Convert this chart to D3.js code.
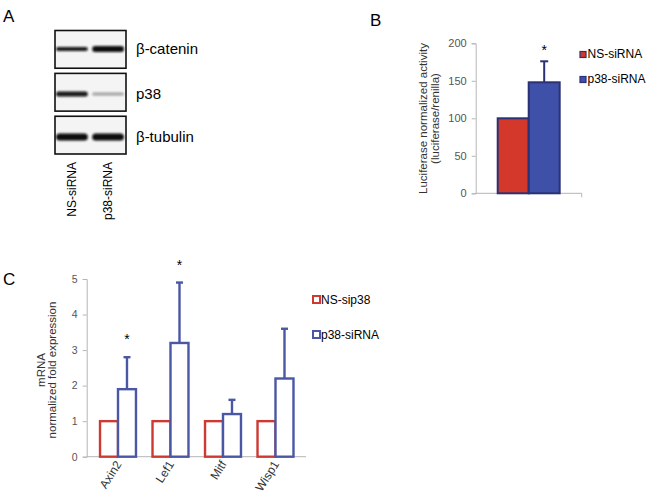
<!DOCTYPE html>
<html><head><meta charset="utf-8">
<script src="https://cdn.jsdelivr.net/npm/d3@7"></script>
<style>body{margin:0;background:#fff}svg{display:block;font-family:"Liberation Sans",Arial,sans-serif}</style>
</head><body>
<svg id="c" width="649" height="496"></svg>
<script>
// ---- Panel A: western blot ----
const blotProteins = ["β-catenin", "p38", "β-tubulin"];
const blotLanes = ["NS-siRNA", "p38-siRNA"];
const bandIntensity = [[0.95, 1.0], [0.95, 0.35], [1.0, 1.0]];
const bandThickness = [[4, 6], [5, 3], [7, 7]];

// ---- Panel B: luciferase ----
const lucSeries = ["NS-siRNA", "p38-siRNA"];
const lucMeans = [100, 148];
const lucErr = [0, 28];
const lucSignif = [false, true];
const lucTicks = [0, 50, 100, 150, 200];

// ---- Panel C: qPCR ----
const genes = ["Axin2", "Lef1", "Mitf", "Wisp1"];
const qSeries = ["NS-sip38", "p38-siRNA"];
const nsValues = [1, 1, 1, 1];
const p38Values = [1.9, 3.2, 1.2, 2.2];
const p38Err = [0.9, 1.7, 0.4, 1.4];
const qSignif = [true, true, false, false];
const qTicks = [0, 1, 2, 3, 4, 5];

const svg = d3.select("#c");
const axisGray = "#b5b5b5", tickText = "#555";

// panel letters
svg.append("text").attr("x", 3).attr("y", 22).attr("font-size", 17).text("A");
svg.append("text").attr("x", 370).attr("y", 26).attr("font-size", 17).text("B");
svg.append("text").attr("x", 3).attr("y", 285).attr("font-size", 17).text("C");

// ===== Panel A =====
const defs = svg.append("defs");
defs.append("filter").attr("id", "blur").attr("x", "-20%").attr("y", "-100%").attr("width", "140%").attr("height", "300%")
  .append("feGaussianBlur").attr("stdDeviation", 1.1);

const laneX = d3.scaleBand().domain(blotLanes).range([56, 124]).paddingInner(0.12);
const rowY = d3.scaleBand().domain(blotProteins).range([30.5, 154]).paddingInner(0.12);
const bandCenters = [49, 94, 137];

const rowsG = svg.append("g");
blotProteins.forEach((p, i) => {
  const y0 = rowY(p), h = rowY.bandwidth();
  rowsG.append("rect").attr("x", 55).attr("y", y0).attr("width", 71).attr("height", h)
    .attr("fill", "#f4f4f4").attr("stroke", "#111").attr("stroke-width", 1.6);
  blotLanes.forEach((l, j) => {
    const th = bandThickness[i][j];
    rowsG.append("rect").attr("x", laneX(l)).attr("y", bandCenters[i] - th / 2)
      .attr("width", laneX.bandwidth()).attr("height", th).attr("rx", th / 2)
      .attr("fill", "#0a0a0a").attr("opacity", bandIntensity[i][j]).attr("filter", "url(#blur)");
  });
  rowsG.append("text").attr("x", 136).attr("y", bandCenters[i] + 5).attr("font-size", 15).text(p);
});
blotLanes.forEach(l => {
  const cx = laneX(l) + laneX.bandwidth() / 2;
  svg.append("text").attr("transform", `translate(${cx + 4},162) rotate(-90)`)
    .attr("text-anchor", "end").attr("font-size", 12).text(l);
});

// ===== Panel B =====
const yB = d3.scaleLinear().domain([0, 200]).range([193.3, 43.3]);
const xB0 = d3.scaleBand().domain(["luc"]).range([475.7, 581.7]);
const xB1 = d3.scaleBand().domain(lucSeries).range([0, xB0.bandwidth()]).paddingOuter(0.71);
const gB = svg.append("g");
const yAxB = gB.append("g").attr("transform", "translate(475.7,0)")
  .call(d3.axisLeft(yB).tickValues(lucTicks).tickFormat(d3.format("d")).tickSize(4).tickPadding(5));
yAxB.select(".domain").attr("stroke", axisGray);
yAxB.selectAll(".tick line").attr("stroke", axisGray);
yAxB.selectAll("text").attr("font-size", 11).attr("fill", tickText).attr("font-family", "Liberation Sans, Arial, sans-serif");
gB.append("line").attr("x1", 475.7).attr("x2", 581.7).attr("y1", yB(0)).attr("y2", yB(0)).attr("stroke", axisGray);
gB.append("line").attr("x1", 581.7).attr("x2", 581.7).attr("y1", yB(0)).attr("y2", yB(0) + 4).attr("stroke", axisGray);

const lucFill = ["#d4382a", "#3e50a8"], lucStroke = "#2b3175";
lucSeries.forEach((s, i) => {
  const x = xB0("luc") + xB1(s), w = xB1.bandwidth();
  gB.append("rect").attr("x", x).attr("y", yB(lucMeans[i])).attr("width", w).attr("height", yB(0) - yB(lucMeans[i]))
    .attr("fill", lucFill[i]).attr("stroke", lucStroke).attr("stroke-width", 2);
  if (lucErr[i] > 0) {
    const cx = x + w / 2, top = yB(lucMeans[i] + lucErr[i]);
    gB.append("line").attr("x1", cx).attr("x2", cx).attr("y1", yB(lucMeans[i])).attr("y2", top).attr("stroke", lucStroke).attr("stroke-width", 2);
    gB.append("line").attr("x1", cx - 4).attr("x2", cx + 4).attr("y1", top).attr("y2", top).attr("stroke", lucStroke).attr("stroke-width", 2);
    if (lucSignif[i]) gB.append("text").attr("x", cx).attr("y", top - 6).attr("text-anchor", "middle").attr("font-size", 14).text("*");
  }
});
gB.append("text").attr("transform", "translate(426.5,118.5) rotate(-90)").attr("text-anchor", "middle").attr("font-size", 11.5).attr("fill", "#333").text("Luciferase normalized activity");
gB.append("text").attr("transform", "translate(439,118.5) rotate(-90)").attr("text-anchor", "middle").attr("font-size", 11.5).attr("fill", "#333").text("(luciferase/renilla)");
lucSeries.forEach((s, i) => {
  const y = 51.5 + i * 25;
  gB.append("rect").attr("x", 580).attr("y", y).attr("width", 6).attr("height", 6).attr("fill", lucFill[i]).attr("stroke", lucStroke).attr("stroke-width", 1.2);
  gB.append("text").attr("x", 587.5).attr("y", y + 6.5).attr("font-size", 12).text(s);
});

// ===== Panel C =====
const yC = d3.scaleLinear().domain([0, 5]).range([456.7, 279]);
const xC0 = d3.scaleBand().domain(genes).range([91.75, 301.75]);
const xC1 = d3.scaleBand().domain(qSeries).range([0, xC0.bandwidth()]).paddingOuter(0.46);
const gC = svg.append("g");
const yAxC = gC.append("g").attr("transform", "translate(86.7,0)")
  .call(d3.axisLeft(yC).tickValues(qTicks).tickFormat(d3.format("d")).tickSize(4).tickPadding(5));
yAxC.select(".domain").attr("stroke", axisGray);
yAxC.selectAll(".tick line").attr("stroke", axisGray);
yAxC.selectAll("text").attr("font-size", 10.5).attr("fill", tickText).attr("font-family", "Liberation Sans, Arial, sans-serif");
gC.append("line").attr("x1", 86.7).attr("x2", 306).attr("y1", yC(0)).attr("y2", yC(0)).attr("stroke", axisGray);

const qStroke = ["#cc3a32", "#4a57a5"];
genes.forEach((g, k) => {
  const vals = [nsValues[k], p38Values[k]];
  qSeries.forEach((s, i) => {
    const x = xC0(g) + xC1(s), w = xC1.bandwidth();
    gC.append("rect").attr("x", x).attr("y", yC(vals[i])).attr("width", w).attr("height", yC(0) - yC(vals[i]))
      .attr("fill", "#fff").attr("stroke", qStroke[i]).attr("stroke-width", 2.4);
  });
  const x = xC0(g) + xC1("p38-siRNA"), w = xC1.bandwidth(), cx = x + w / 2;
  const top = yC(p38Values[k] + p38Err[k]);
  gC.append("line").attr("x1", cx).attr("x2", cx).attr("y1", yC(p38Values[k])).attr("y2", top).attr("stroke", qStroke[1]).attr("stroke-width", 2.4);
  gC.append("line").attr("x1", cx - 3.5).attr("x2", cx + 3.5).attr("y1", top).attr("y2", top).attr("stroke", qStroke[1]).attr("stroke-width", 2.4);
  if (qSignif[k]) gC.append("text").attr("x", cx).attr("y", top - 13).attr("text-anchor", "middle").attr("font-size", 14).text("*");
  const gx = xC0(g) + xC0.bandwidth() / 2;
  gC.append("text").attr("transform", `translate(${gx + 4},464) rotate(-58)`).attr("text-anchor", "end")
    .attr("font-size", 12).attr("fill", "#333").text(g);
});
gC.append("text").attr("transform", "translate(45,370) rotate(-90)").attr("text-anchor", "middle").attr("font-size", 11.5).attr("fill", "#333").text("mRNA");
gC.append("text").attr("transform", "translate(56,370) rotate(-90)").attr("text-anchor", "middle").attr("font-size", 11.5).attr("fill", "#333").text("normalized fold expression");
qSeries.forEach((s, i) => {
  const y = 296 + i * 35;
  gC.append("rect").attr("x", 313).attr("y", y).attr("width", 7).attr("height", 7).attr("fill", "#fff").attr("stroke", qStroke[i]).attr("stroke-width", 2);
  gC.append("text").attr("x", 321).attr("y", y + 8).attr("font-size", 12).text(s);
});
</script>
</body></html>
